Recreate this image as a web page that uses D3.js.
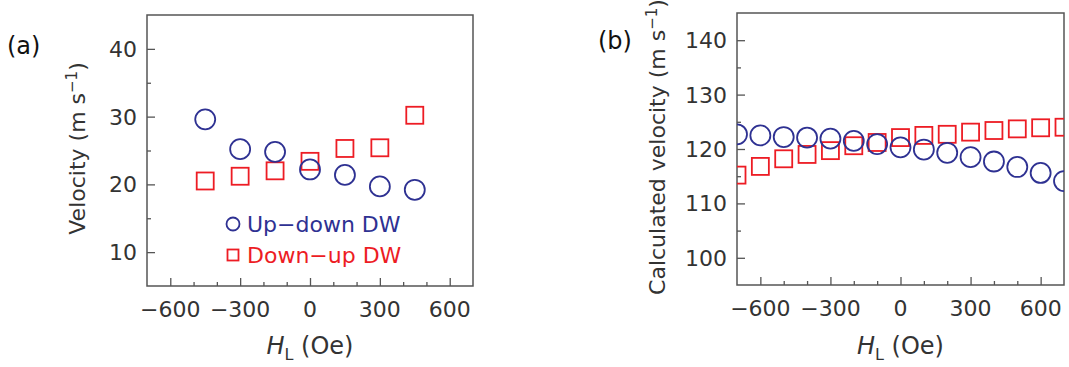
<!DOCTYPE html>
<html><head><meta charset="utf-8">
<script src="https://cdn.jsdelivr.net/npm/d3@7"></script>
<style>
body{margin:0;background:#fff;}
text{font-family:"DejaVu Sans",sans-serif;}
</style></head>
<body>
<svg id="c" width="1069" height="367"></svg>
<script>
// Panel (a) data
const fieldA = [-450, -300, -150, 0, 150, 300, 450];
const upDownA = [29.6, 25.2, 24.8, 22.2, 21.4, 19.7, 19.2];
const downUpA = [20.5, 21.2, 22.0, 23.4, 25.3, 25.4, 30.2];
// Panel (b) data
const fieldB = [-700, -600, -500, -400, -300, -200, -100, 0, 100, 200, 300, 400, 500, 600, 700];
const upDownB = [122.7, 122.5, 122.2, 122.1, 121.9, 121.5, 120.9, 120.3, 119.9, 119.3, 118.5, 117.7, 116.7, 115.6, 114.1];
const downUpB = [115.2, 116.8, 118.2, 119.0, 119.7, 120.6, 121.2, 122.1, 122.5, 122.7, 123.1, 123.4, 123.7, 123.9, 124.0];
const xTicks = [-600, -300, 0, 300, 600];
const yTicksA = [10, 20, 30, 40];
const yTicksB = [100, 110, 120, 130, 140];
const legendLabels = ["Up\u2212down DW", "Down\u2212up DW"];

const BLUE = "#2e3192", RED = "#ed1c24", AX = "#555", TXT = "#333";
const svg = d3.select("#c");

function fmt(d){ return d < 0 ? "\u2212" + Math.abs(d) : String(d); }

function panel(opts){
  const {left, right, top, bottom, xDom, yDom, yTicks, yMinor, xMinor, up, down, xs, ytitle, tag, tagX, tagY, ytitleX, id} = opts;
  const x = d3.scaleLinear().domain(xDom).range([left, right]);
  const y = d3.scaleLinear().domain(yDom).range([bottom, top]);
  const g = svg.append("g");
  g.append("clipPath").attr("id", id).append("rect")
    .attr("x", left).attr("y", top).attr("width", right-left).attr("height", bottom-top);

  const yAxMinor = d3.axisRight(y).tickValues(yMinor).tickSize(4).tickFormat("");
  const ya = g.append("g").attr("transform", `translate(${left},0)`).call(yAxMinor);
  const yAx = d3.axisRight(y).tickValues(yTicks).tickSize(8).tickFormat("");
  const yb = g.append("g").attr("transform", `translate(${left},0)`).call(yAx);
  const xAxMinor = d3.axisTop(x).tickValues(xMinor).tickSize(4).tickFormat("");
  const xa = g.append("g").attr("transform", `translate(0,${bottom})`).call(xAxMinor);
  const xAx = d3.axisTop(x).tickValues(xTicks).tickSize(8).tickFormat("");
  const xb = g.append("g").attr("transform", `translate(0,${bottom})`).call(xAx);
  [ya,yb,xa,xb].forEach(s=>{ s.select(".domain").remove(); s.selectAll("line").attr("stroke", AX).attr("stroke-width",1.3); });

  g.selectAll(".yl").data(yTicks).join("text")
    .attr("x", left-10).attr("y", d=>y(d)).attr("dy","0.36em")
    .attr("text-anchor","end").attr("font-size",22).attr("fill",TXT).text(d=>d);
  g.selectAll(".xl").data(xTicks).join("text")
    .attr("x", d=>x(d)).attr("y", bottom+31)
    .attr("text-anchor","middle").attr("font-size",22).attr("fill",TXT).text(fmt);

  g.append("rect").attr("x",left).attr("y",top).attr("width",right-left).attr("height",bottom-top)
    .attr("fill","none").attr("stroke",AX).attr("stroke-width",1.5);

  const dg = g.append("g").attr("clip-path", `url(#${id})`);
  dg.selectAll(".sq").data(xs.map((v,i)=>[v,down[i]])).join("rect")
    .attr("x", d=>x(d[0])-8.5).attr("y", d=>y(d[1])-8.5).attr("width",17).attr("height",17)
    .attr("fill","none").attr("stroke",RED).attr("stroke-width",1.8);
  dg.selectAll(".ci").data(xs.map((v,i)=>[v,up[i]])).join("circle")
    .attr("cx", d=>x(d[0])).attr("cy", d=>y(d[1])).attr("r",10)
    .attr("fill","none").attr("stroke",BLUE).attr("stroke-width",1.8);

  const yt = g.append("text").attr("transform", `translate(${ytitleX},${(top+bottom)/2-2}) rotate(-90)`)
    .attr("text-anchor","middle").attr("font-size",22).attr("fill",TXT);
  yt.append("tspan").text(ytitle + " (m s");
  yt.append("tspan").attr("font-size",15).attr("dy",-8).text("\u22121");
  yt.append("tspan").attr("dy",8).text(")");

  const xt = g.append("text").attr("x",(left+right)/2).attr("y",354).attr("text-anchor","middle")
    .attr("font-size",24).attr("fill",TXT);
  xt.append("tspan").attr("font-style","italic").text("H");
  xt.append("tspan").attr("font-size",16).attr("dy",6).text("L");
  xt.append("tspan").attr("dy",-6).text(" (Oe)");

  g.append("text").attr("x",tagX).attr("y",tagY).attr("font-size",24).attr("fill","#111").text(tag);
  return {x,y,g};
}

panel({left:147, right:473, top:15, bottom:286, xDom:[-700,700], yDom:[5,45],
  yTicks:yTicksA, yMinor:[15,25,35], xMinor:[-500,-400,-200,-100,100,200,400,500],
  up:upDownA, down:downUpA, xs:fieldA, ytitle:"Velocity", tag:"(a)", tagX:7, tagY:54, ytitleX:85, id:"ca"});

panel({left:737, right:1064, top:13, bottom:285, xDom:[-700,700], yDom:[95,145],
  yTicks:yTicksB, yMinor:[105,115,125,135], xMinor:[-500,-400,-200,-100,100,200,400,500],
  up:upDownB, down:downUpB, xs:fieldB, ytitle:"Calculated velocity", tag:"(b)", tagX:598, tagY:49, ytitleX:665, id:"cb"});

const lg = svg.append("g");
lg.append("circle").attr("cx",233).attr("cy",224).attr("r",6.5).attr("fill","none").attr("stroke",BLUE).attr("stroke-width",1.8);
lg.append("rect").attr("x",227.5).attr("y",249.5).attr("width",11).attr("height",11).attr("fill","none").attr("stroke",RED).attr("stroke-width",1.8);
lg.append("text").attr("x",247).attr("y",224).attr("dy","0.36em").attr("font-size",22).attr("fill",BLUE).text(legendLabels[0]);
lg.append("text").attr("x",247).attr("y",255).attr("dy","0.36em").attr("font-size",22).attr("fill",RED).text(legendLabels[1]);
</script>
</body></html>
